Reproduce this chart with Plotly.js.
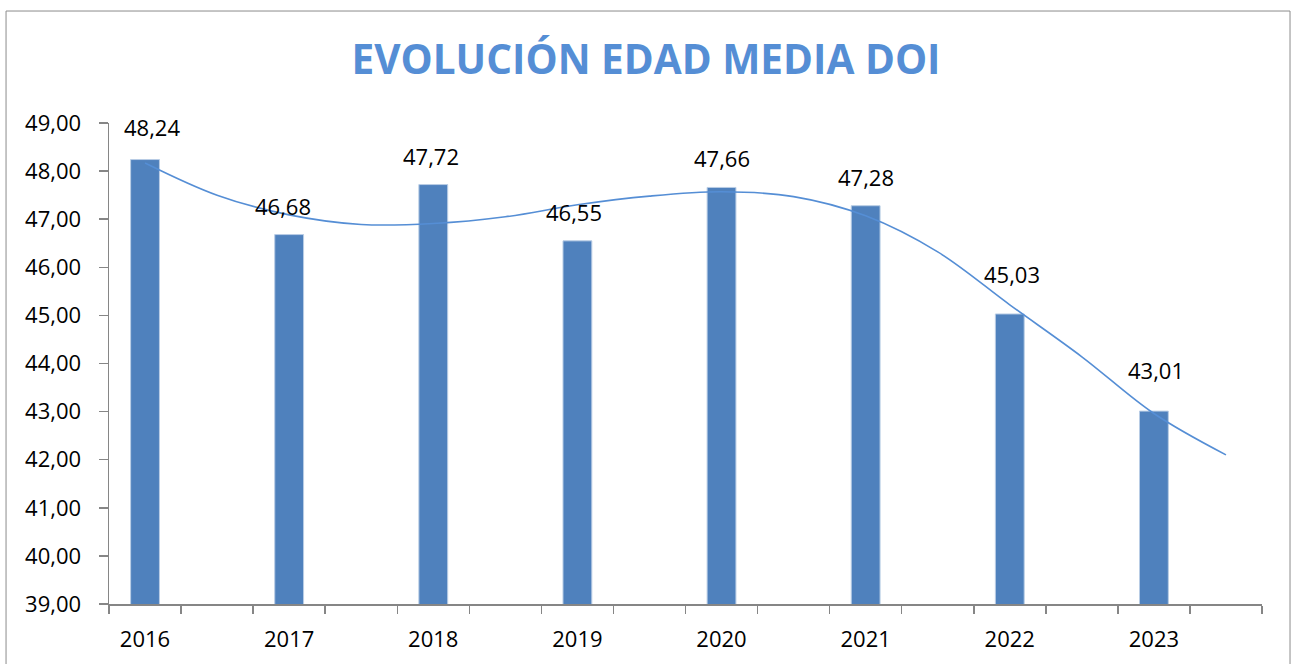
<!DOCTYPE html>
<html>
<head>
<meta charset="utf-8">
<script src="https://cdn.plot.ly/plotly-3.0.1.min.js"></script>
<style>
  body { margin: 0; background: #fff; }
  #plot { width: 1292px; height: 664px; }
</style>
</head>
<body>
<div id="plot"></div>
<script>
// years and mean age values
var years = ['2016', '2017', '2018', '2019', '2020', '2021', '2022', '2023'];
var edadMedia = [48.24, 46.68, 47.72, 46.55, 47.66, 47.28, 45.03, 43.01];

// polynomial trendline, one point per half-year slot (16 slots)
var trendSlots = [1, 2, 3, 4, 5, 6, 7, 8, 9, 10, 11, 12, 13, 14, 15, 16];
var trendValues = [48.17, 47.50, 47.09, 46.89, 46.91, 47.05, 47.30, 47.48, 47.57, 47.47, 47.07, 46.32, 45.22, 44.14, 42.96, 42.10];

// the axis has two slots per year, the bar sits in the first one
var barX = years.map(function (_, i) { return 2 * i + 1; });

// small nudges for the data labels (pixels), like the hand-moved labels in the original
var labelLift = [4, 0, 0, 0, 0, 0, 11, 12];
var labelSlide = [7, -6, -2, -3, 0, 0, 2, 2];

var fontFam = 'Open Sans, Lato, sans-serif';

var bars = {
    x: barX,
    y: edadMedia,
    type: 'bar',
    width: 0.4,
    marker: { color: '#4F81BD', line: { color: '#b9cde5', width: 1 } },
    hoverinfo: 'y',
    showlegend: false
};

var trend = {
    x: trendSlots,
    y: trendValues,
    type: 'scatter',
    mode: 'lines',
    line: { color: '#558ED5', width: 1.6, shape: 'spline', smoothing: 1 },
    hoverinfo: 'skip',
    showlegend: false
};

var labels = edadMedia.map(function (v, i) {
    return {
        x: barX[i],
        y: v,
        xref: 'x',
        yref: 'y',
        text: v.toFixed(2).replace('.', ','),
        showarrow: false,
        yanchor: 'bottom',
        yshift: 12 + labelLift[i],
        xshift: labelSlide[i],
        font: { family: fontFam, size: 22, color: '#000' }
    };
});

var layout = {
    width: 1292,
    height: 664,
    margin: { l: 109, r: 30, t: 123, b: 60 },
    paper_bgcolor: '#fff',
    plot_bgcolor: '#fff',
    separators: ',.',
    title: {
        text: '<b>EVOLUCIÓN EDAD MEDIA DOI</b>',
        x: 0.5,
        xref: 'container',
        y: 0.91,
        yref: 'container',
        yanchor: 'middle',
        font: { family: fontFam, size: 40.5, color: '#558ED5' }
    },
    xaxis: {
        range: [0.5, 16.5],
        tickmode: 'array',
        tickvals: barX,
        ticktext: years,
        ticks: '',
        showgrid: false,
        zeroline: false,
        showline: true,
        linecolor: '#868686',
        linewidth: 1.5,
        ticklabelstandoff: 15,
        tickfont: { family: fontFam, size: 22, color: '#000' },
        minor: {
            tick0: 0.5,
            dtick: 1,
            ticks: 'outside',
            ticklen: 8,
            tickwidth: 1.5,
            tickcolor: '#868686',
            showgrid: false
        },
        fixedrange: true
    },
    yaxis: {
        range: [39, 49],
        dtick: 1,
        tickformat: '.2f',
        ticks: 'outside',
        ticklen: 9,
        tickwidth: 1.5,
        tickcolor: '#868686',
        showgrid: false,
        zeroline: false,
        showline: true,
        linecolor: '#868686',
        linewidth: 1.5,
        ticklabelstandoff: 13,
        tickfont: { family: fontFam, size: 22, color: '#000' },
        fixedrange: true
    },
    annotations: labels,
    shapes: [{
        type: 'rect',
        xref: 'paper',
        yref: 'paper',
        x0: -0.0893,
        x1: 1.0243,
        y0: -0.15,
        y1: 1.2328,
        line: { color: '#8c8c8c', width: 1 },
        fillcolor: 'rgba(0,0,0,0)',
        layer: 'below'
    }]
};

Plotly.newPlot('plot', [bars, trend], layout, { displayModeBar: false, staticPlot: true });
</script>
</body>
</html>
